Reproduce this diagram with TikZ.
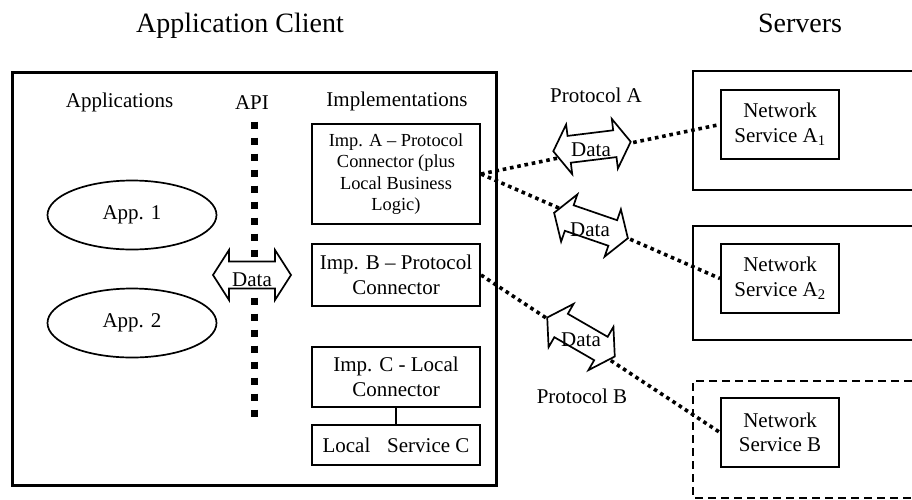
\documentclass[tikz,border=0pt]{standalone}
\usepackage{fontspec}
\setmainfont{Liberation Serif}
\usetikzlibrary{shapes.geometric}
\begin{document}
\begin{tikzpicture}[x=1pt,y=-1pt,
  box/.style={draw,line width=2pt,inner sep=0pt,align=center,anchor=north west,font=\fontsize{21}{24.5}\selectfont},
  lbl/.style={inner sep=0pt,anchor=base,font=\fontsize{21}{24}\selectfont},
  ttl/.style={inner sep=0pt,anchor=base,font=\fontsize{28}{32}\selectfont},
  conn/.style={line width=3.6pt,dash pattern=on 3.6pt off 3.8pt},
  apiline/.style={line width=7.5pt,dash pattern=on 7pt off 9pt},
  srv/.style={line width=2pt},
  arrowline/.style={draw,fill=white,line width=1.7pt,line join=miter},
  appell/.style={draw,ellipse,line width=1.7pt,minimum width=169pt,minimum height=69pt,inner sep=0pt,font=\fontsize{21}{24}\selectfont},
  dataarrow/.pic={\path[arrowline] (-39,0) -- (-23,25) -- (-23,13.5) -- (23,13.5) -- (23,25) -- (39,0) -- (23,-25) -- (23,-13.5) -- (-23,-13.5) -- (-23,-25) -- cycle;}
]
\useasboundingbox (0,0) rectangle (912,499);
\fill[white] (0,0) rectangle (912,499);

% titles
\node[ttl] (tclient) at (240,32) {Application Client};
\node[ttl] (tservers) at (800,32) {Servers};

% client box
\node[draw,line width=2.5pt,inner sep=0pt,anchor=north west,minimum width=484pt,minimum height=413pt] (client) at (11,71) {};

\node[lbl] (lapps) at (119.5,107) {Applications};
\node[lbl] (lapi) at (252,109) {API};
\node[lbl] (limpl) at (397,106) {Implementations};

\node[appell] (app1) at (132,215) {App. 1};
\node[appell] (app2) at (132,323) {App. 2};

% API dotted line
\coordinate (apitop) at (254.5,121.5);
\coordinate (apibot) at (254.5,417);
\draw[apiline] (apitop) -- (apibot);

% implementation boxes
\node[box,minimum width=168pt,minimum height=100pt,font=\fontsize{18.4}{21.5}\selectfont] (impA) at (311,123) {Imp. A – Protocol\\Connector (plus\\Local Business\\Logic)};
\node[box,minimum width=168pt,minimum height=62pt] (impB) at (311,243) {Imp. B – Protocol\\Connector};
\node[box,minimum width=168pt,minimum height=60pt] (impC) at (311,346) {Imp. C - Local\\Connector};
\node[box,minimum width=168pt,minimum height=40pt] (locC) at (311,424) {Local\hspace{0.8em}Service C};
\draw[line width=1.6pt] (impC.south) -- (locC.north);

% server boxes
\draw[srv] (912,71) -- (693,71) -- (693,190) -- (912,190);
\draw[srv] (912,226) -- (693,226) -- (693,340) -- (912,340);
\draw[srv,dash pattern=on 8pt off 5pt] (912,381) -- (693,381) -- (693,498) -- (912,498);

\node[box,minimum width=118pt,minimum height=69pt] (nsA1) at (720,89) {Network\\Service A\textsubscript{1}};
\node[box,minimum width=118pt,minimum height=69pt] (nsA2) at (720,243) {Network\\Service A\textsubscript{2}};
\node[box,minimum width=118pt,minimum height=69pt] (nsB) at (720,397) {Network\\Service B};

\node[lbl] (lprotA) at (596,102) {Protocol A};
\node[lbl] (lprotB) at (582,403) {Protocol B};

% connectors
\draw[conn] (impA.east) -- (nsA1.west);
\draw[conn] (impA.east) -- (nsA2.west);
\draw[conn] (impB.east) -- (nsB.west);

% data arrows
\pic at (252,275) {dataarrow};
\pic[rotate=7] at (592,146.5) {dataarrow};
\pic[rotate=-19] at (591,225.5) {dataarrow};
\pic[rotate=-30] at (581,337) {dataarrow};

\node[lbl,anchor=center] (d0) at (252,280) {Data};
\node[lbl,anchor=center] (d1) at (591,150) {Data};
\node[lbl,anchor=center] (d2) at (590,229.5) {Data};
\node[lbl,anchor=center] (d3) at (581,339.5) {Data};
\end{tikzpicture}
\end{document}
